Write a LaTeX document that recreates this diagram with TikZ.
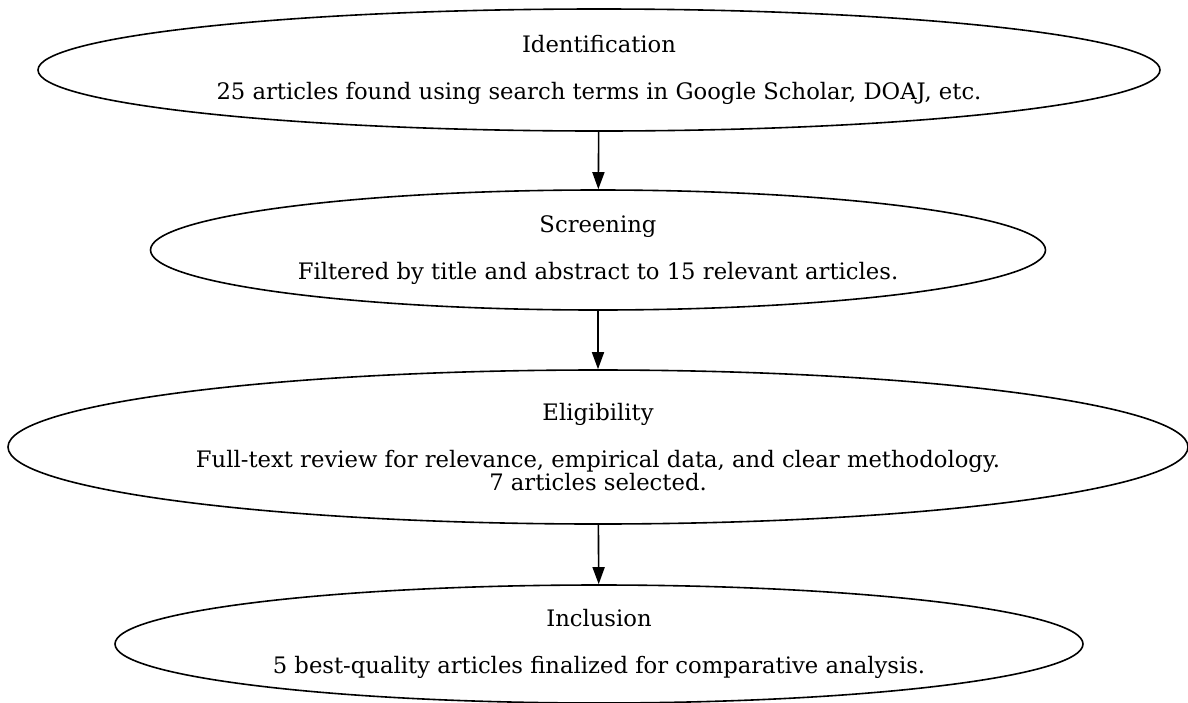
\documentclass[tikz,border=0pt]{standalone}
\usepackage{fontspec}
\setmainfont{DejaVu Serif}
\usetikzlibrary{arrows.meta, shapes.geometric}

\begin{document}
\begin{tikzpicture}[x=1pt,y=1pt,
  stage/.style={draw,ellipse,line width=1.6pt,inner sep=0pt,align=center,
    font=\fontsize{22.7}{23.5}\selectfont},
  flow/.style={line width=1.6pt,-{Triangle[length=17pt,width=12pt]}}]
\useasboundingbox (0,0) rectangle (1188,-702);
%stages
\node[stage,minimum width=1122pt,minimum height=122pt] (ident) at (599,-70)
  {Identification\\[23.5pt]25 articles found using search terms in Google Scholar, DOAJ, etc.};
\node[stage,minimum width=895pt,minimum height=120pt] (screen) at (598,-250)
  {Screening\\[23.5pt]Filtered by title and abstract to 15 relevant articles.};
\node[stage,minimum width=1180pt,minimum height=154pt] (elig) at (598,-447)
  {Eligibility\\[23.5pt]Full-text review for relevance, empirical data, and clear methodology.\\7 articles selected.};
\node[stage,minimum width=968pt,minimum height=118pt] (incl) at (599,-644)
  {Inclusion\\[23.5pt]5 best-quality articles finalized for comparative analysis.};
%arrows between
\draw[flow] (ident) -- (screen);
\draw[flow] (screen) -- (elig);
\draw[flow] (elig) -- (incl);
\end{tikzpicture}
\end{document}
